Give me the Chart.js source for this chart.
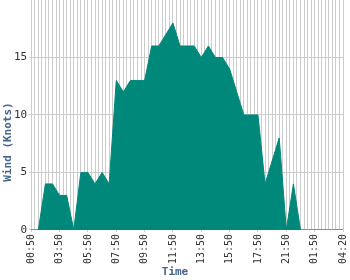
<!DOCTYPE html>
<html lang="en">
<head>
    <meta charset="UTF-8">
    <title>Wind</title>
    <script src="https://cdn.jsdelivr.net/npm/chart.js"></script>
    <style>
        body { margin: 0; background: #fff; }
        .chart-container { width: 350px; height: 280px; }
    </style>
</head>
<body>
    <div class="chart-container">
        <canvas id="windChart"></canvas>
    </div>

    <script>
        // labels shown on every 8th reading
        const tickLabels = ['00:50', '03:50', '05:50', '07:50', '09:50', '11:50',
                            '13:50', '15:50', '17:50', '21:50', '01:50', '04:20'];
        const wind = [
            0, 0, 0, 2, 4, 4, 4, 3.5, 3, 3, 3, 1.5, 0, 2.5, 5, 5, 5, 4.5, 4, 4.5,
            5, 4.5, 4, 8.5, 13, 12.5, 12, 12.5, 13, 13, 13, 13, 13, 14.5, 16, 16, 16, 16.5, 17, 17.5,
            18, 17, 16, 16, 16, 16, 16, 15.5, 15, 15.5, 16, 15.5, 15, 15, 15, 14.5, 14, 13, 12, 11,
            10, 10, 10, 10, 10, 7, 4, 5, 6, 7, 8, 4, 0, 2, 4, 2, 0, 0, 0, 0,
            0, 0, 0, 0, 0, 0, 0, 0, 0
        ];
        const times = wind.map((v, i) => i % 8 === 0 ? tickLabels[i / 8] : '');

        const teal = '#00887a';
        const grid = '#cccccc';
        const titleColor = '#46658a';
        const mono = '"DejaVu Sans Mono", monospace';

        // axis titles are centred on the canvas, not the plot area
        const axisTitles = {
            id: 'axisTitles',
            afterDraw(chart) {
                const c = chart.ctx;
                c.save();
                c.font = 'bold 11px ' + mono;
                c.fillStyle = titleColor;
                c.textAlign = 'center';
                c.textBaseline = 'middle';
                c.fillText('Time', 175, 272);
                c.translate(8, 142);
                c.rotate(-Math.PI / 2);
                c.fillText('Wind (Knots)', 0, 0);
                c.restore();
            }
        };

        const ctx = document.getElementById('windChart').getContext('2d');
        new Chart(ctx, {
            type: 'line',
            data: {
                labels: times,
                datasets: [{
                    data: wind,
                    fill: 'origin',
                    backgroundColor: teal,
                    borderColor: teal,
                    borderWidth: 1,
                    pointRadius: 0,
                    tension: 0
                }]
            },
            options: {
                responsive: true,
                maintainAspectRatio: false,
                animation: false,
                layout: { padding: { left: 12, right: 7, top: 0, bottom: 14 } },
                plugins: {
                    legend: { display: false },
                    tooltip: { enabled: false }
                },
                scales: {
                    x: {
                        border: { display: false },
                        grid: {
                            color: grid,
                            tickLength: 2,
                            tickColor: c => c.index % 8 === 0 ? grid : 'rgba(0,0,0,0)'
                        },
                        ticks: {
                            autoSkip: false,
                            maxRotation: 90,
                            minRotation: 90,
                            padding: 2,
                            color: '#333',
                            font: { family: mono, size: 10 },
                            callback: (v, i) => times[i]
                        },
                        // let the plot run to the right edge like the original
                        afterFit: s => { s.paddingLeft = 0; s.paddingRight = 0; }
                    },
                    y: {
                        min: 0,
                        max: 20,
                        border: { display: false },
                        grid: {
                            color: c => c.tick && c.tick.value === 20 ? 'rgba(0,0,0,0)' : grid,
                            tickLength: 2
                        },
                        ticks: {
                            stepSize: 5,
                            padding: 2,
                            color: '#333',
                            font: { family: mono, size: 11 },
                            callback: v => v === 20 ? '' : v
                        },
                        afterFit: s => { s.paddingTop = 0; }
                    }
                }
            },
            plugins: [axisTitles]
        });
    </script>
</body>
</html>
